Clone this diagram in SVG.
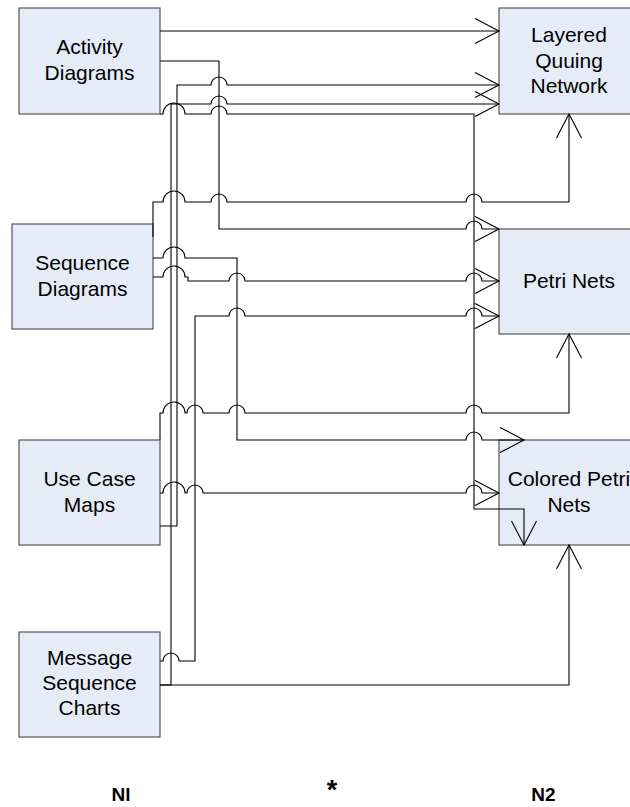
<svg xmlns="http://www.w3.org/2000/svg" width="630" height="807" viewBox="0 0 630 807">
<style>
.box{fill:#E6ECF7;stroke:#555;stroke-width:1.2}
.t{font-family:"Liberation Sans",Arial,sans-serif;font-size:21px;fill:#000;text-anchor:middle}
.lbl{font-family:"Liberation Sans",Arial,sans-serif;font-size:19px;font-weight:bold;fill:#000;text-anchor:middle}
.c{fill:none;stroke:#000;stroke-width:1.1;marker-end:url(#arr)}
</style>
<defs>
<marker id="arr" markerWidth="30" markerHeight="30" viewBox="-26 -15 30 30" refX="0" refY="0" orient="auto" markerUnits="userSpaceOnUse" overflow="visible">
<path d="M-24,-12.5 L0,0 L-24,12.5" fill="none" stroke="#000" stroke-width="1.1"/>
</marker>
</defs>
<rect width="630" height="807" fill="#fff"/>
<g id="activity-diagrams"><rect class="box" x="19" y="8" width="141" height="106"/><text class="t" x="89.5" y="53.5">Activity</text><text class="t" x="89.5" y="80">Diagrams</text></g>
<g id="sequence-diagrams"><rect class="box" x="12" y="224" width="141" height="105"/><text class="t" x="82.5" y="270">Sequence</text><text class="t" x="82.5" y="296">Diagrams</text></g>
<g id="use-case-maps"><rect class="box" x="19" y="440" width="141" height="105"/><text class="t" x="89.5" y="486">Use Case</text><text class="t" x="89.5" y="512">Maps</text></g>
<g id="message-sequence-charts"><rect class="box" x="19" y="632" width="141" height="105"/><text class="t" x="89.5" y="665">Message</text><text class="t" x="89.5" y="690">Sequence</text><text class="t" x="89.5" y="715">Charts</text></g>
<g id="layered-quuing-network"><rect class="box" x="499" y="8" width="141" height="106"/><text class="t" x="569" y="41.5">Layered</text><text class="t" x="569" y="67.5">Quuing</text><text class="t" x="569" y="93">Network</text></g>
<g id="petri-nets"><rect class="box" x="499" y="229" width="141" height="105"/><text class="t" x="569" y="287.5">Petri Nets</text></g>
<g id="colored-petri-nets"><rect class="box" x="499" y="440" width="141" height="105"/><text class="t" x="569" y="486">Colored Petri</text><text class="t" x="569" y="512">Nets</text></g>
<g id="connectors">
<path class="c" d="M160,31 H499"/>
<path class="c" d="M160,61 H219 V229 H466 A8,8 0 0 1 482,229 H499"/>
<path class="c" d="M160,114 H163 A11,11 0 0 1 185,114 H211 A8,8 0 0 1 227,114 H474 V509 H524 V545"/>
<path class="c" d="M160,526 H177 V85 H211 A8,8 0 0 1 227,85 H499"/>
<path class="c" d="M160,685 H171 V104 H211 A8,8 0 0 1 227,104 H499"/>
<path class="c" d="M153,237 V202 H163 A11,11 0 0 1 185,202 H211 A8,8 0 0 1 227,202 H466 A8,8 0 0 1 482,202 H569 V114"/>
<path class="c" d="M153,277 H163 A11,11 0 0 1 185,277 H188 V281 H229 A8,8 0 0 1 245,281 H466 A8,8 0 0 1 482,281 H499"/>
<path class="c" d="M153,258 H163 A11,11 0 0 1 185,258 H237 V440 H466 A8,8 0 0 1 482,440 H524"/>
<path class="c" d="M160,440 V413 H163 A11,11 0 0 1 185,413 H187 A8,8 0 0 1 203,413 H229 A8,8 0 0 1 245,413 H466 A8,8 0 0 1 482,413 H569 V334"/>
<path class="c" d="M160,493 H163 A11,11 0 0 1 185,493 H187 A8,8 0 0 1 203,493 H466 A8,8 0 0 1 482,493 H499"/>
<path class="c" d="M160,661 H163 A8,8 0 0 1 179,661 H195 V316 H229 A8,8 0 0 1 245,316 H466 A8,8 0 0 1 482,316 H499"/>
<path class="c" d="M160,685 H569 V545"/>
</g>
<g id="labels">
<text class="lbl" x="121" y="800.5">Nl</text>
<text class="lbl" x="332" y="799" style="font-size:27px">*</text>
<text class="lbl" x="543.5" y="800.5">N2</text>
</g>
</svg>
